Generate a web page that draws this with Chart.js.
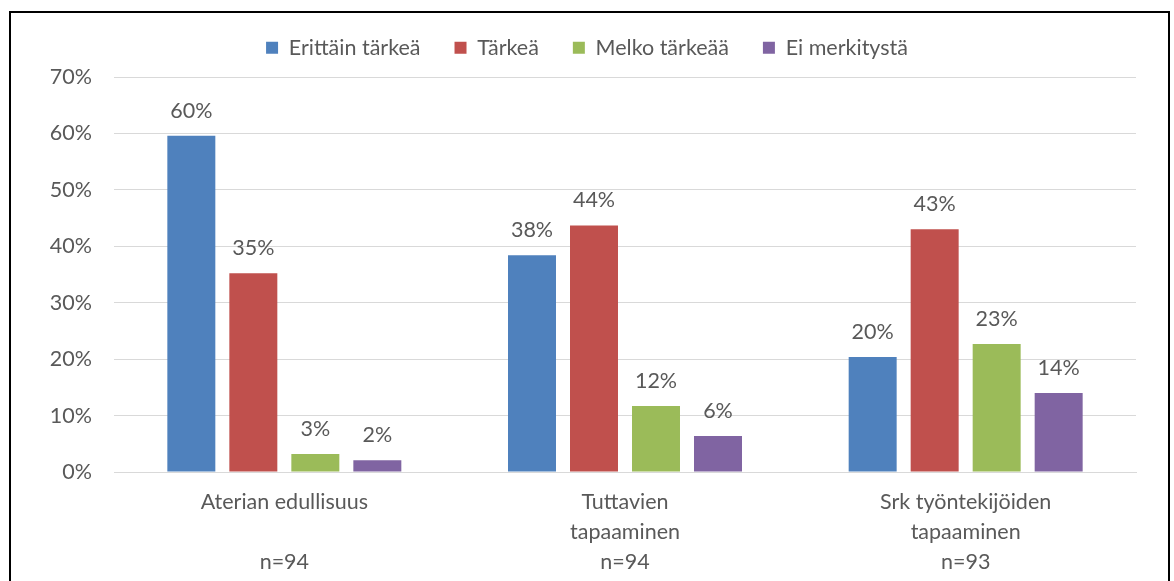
<!DOCTYPE html>
<html>
<head>
<meta charset="utf-8">
<script src="https://cdn.jsdelivr.net/npm/chart.js@4/dist/chart.umd.min.js"></script>
<style>
  body { margin: 0; background: #fff; overflow: hidden; }
  #frame { position: absolute; left: 9px; top: 11px; width: 1157px; height: 700px; border: 2px solid #000; pointer-events: none; }
  #c { position: absolute; left: 0; top: 0; }
</style>
</head>
<body>
<canvas id="c" width="1174" height="581"></canvas>
<div id="frame"></div>
<script>
// categories, with the n= row as the last label line
const categories = [
    ["Aterian edullisuus", "", "n=94"],
    ["Tuttavien", "tapaaminen", "n=94"],
    ["Srk työntekijöiden", "tapaaminen", "n=93"]
];
const seriesNames = ["Erittäin tärkeä", "Tärkeä", "Melko tärkeää", "Ei merkitystä"];
const erittainTarkea = [59.6, 38.4, 20.4];
const tarkea = [35.2, 43.7, 43.0];
const melkoTarkeaa = [3.2, 11.7, 22.7];
const eiMerkitysta = [2.1, 6.4, 14.0];
const colors = ["#4F81BD", "#C0504D", "#9BBB59", "#8064A2"];
const yTicks = [0, 10, 20, 30, 40, 50, 60, 70];

const FONT = "Lato, 'Liberation Sans', sans-serif";
const FSIZE = 21.5;
const TEXT = "#595959";

// draws the value over each bar
const valueLabels = {
    id: "valueLabels",
    afterDatasetsDraw(chart) {
        const ctx = chart.ctx;
        ctx.save();
        ctx.font = FSIZE + "px " + FONT;
        ctx.fillStyle = TEXT;
        ctx.textAlign = "center";
        ctx.textBaseline = "middle";
        chart.data.datasets.forEach((ds, i) => {
            let meta = chart.getDatasetMeta(i);
            meta.data.forEach((bar, j) => {
                ctx.fillText(Math.round(ds.data[j]) + "%", bar.x, bar.y - 25);
            });
        });
        ctx.restore();
    }
};

// legend keeps wide gaps between items but ends right where the plot starts
const legendHeight = {
    id: "legendHeight",
    beforeLayout(chart) {
        const lg = chart.legend;
        if (lg && !lg._patched) {
            const fit = lg.fit;
            lg.fit = function () { fit.call(this); this.height = 74; };
            lg._patched = true;
        }
    }
};

function makeDataset(label, data, color) {
    return {
        label: label,
        data: data,
        backgroundColor: color,
        borderWidth: 0,
        categoryPercentage: 0.728,
        barPercentage: 0.774
    };
}

const chart = new Chart(document.getElementById("c"), {
    type: "bar",
    data: {
        labels: categories,
        datasets: [
            makeDataset(seriesNames[0], erittainTarkea, colors[0]),
            makeDataset(seriesNames[1], tarkea, colors[1]),
            makeDataset(seriesNames[2], melkoTarkeaa, colors[2]),
            makeDataset(seriesNames[3], eiMerkitysta, colors[3])
        ]
    },
    options: {
        responsive: false,
        animation: false,
        layout: { padding: { top: 3, right: 38, left: 38, bottom: 0 } },
        plugins: {
            tooltip: { enabled: false },
            legend: {
                position: "top",
                labels: {
                    boxWidth: 12,
                    boxHeight: 12,
                    padding: 34,
                    color: TEXT,
                    font: { family: FONT, size: FSIZE }
                }
            }
        },
        scales: {
            x: {
                grid: { display: false, drawTicks: false },
                border: { display: true, color: "#D9D9D9", width: 1 },
                ticks: { color: TEXT, font: { family: FONT, size: FSIZE, lineHeight: 1.4 }, padding: 15, maxRotation: 0, autoSkip: false },
                afterFit(scale) { scale.height = 109; }
            },
            y: {
                min: 0,
                max: 70,
                afterBuildTicks(scale) { scale.ticks = yTicks.map(v => ({ value: v })); },
                grid: { color: "#D9D9D9", lineWidth: 1, drawTicks: false },
                border: { display: false },
                ticks: {
                    color: TEXT,
                    font: { family: FONT, size: FSIZE },
                    padding: 22,
                    callback: v => v + "%"
                },
                afterFit(scale) { scale.width = 76; }
            }
        }
    },
    plugins: [valueLabels, legendHeight]
});
</script>
</body>
</html>
